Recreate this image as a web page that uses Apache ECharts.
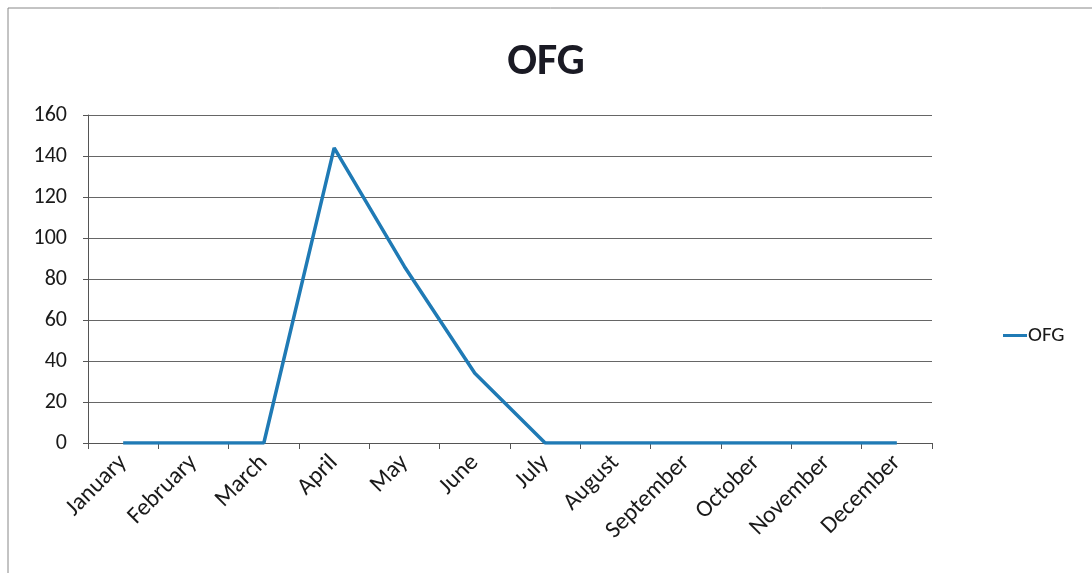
<!DOCTYPE html>
<html><head><meta charset="utf-8">
<script src="https://cdn.jsdelivr.net/npm/echarts@6/dist/echarts.min.js"></script>
<style>html,body{margin:0;padding:0;background:#fff}#c{width:1092px;height:573px}</style>
</head><body><div id="c"></div>
<script>
const categories = ['January','February','March','April','May','June','July','August','September','October','November','December'];
const ofgValues = [0,0,0,144,86,34,0,0,0,0,0,0];
const seriesName = 'OFG';
const chartTitle = 'OFG';

const FONT = 'Carlito, "Open Sans", sans-serif';
const chart = echarts.init(document.getElementById('c'));
chart.setOption({
  backgroundColor:'#fff',
  animation:false,
  title:{text:chartTitle,left:'center',top:36,textStyle:{fontFamily:FONT,fontWeight:'bold',fontSize:44,color:'#1a1a24'}},
  graphic:[{type:'rect',shape:{x:8,y:8,width:1100,height:580},style:{fill:'none',stroke:'#888',lineWidth:1},silent:true}],
  legend:{data:[{name:seriesName,icon:'rect'}],orient:'vertical',left:998,top:320,itemWidth:24,itemHeight:3,itemGap:6,
    textStyle:{fontFamily:FONT,fontSize:21,color:'#1a1a1a',padding:[0,0,0,-4]}},
  grid:{left:88,right:160,top:115,bottom:130,containLabel:false},
  xAxis:{type:'category',data:categories,boundaryGap:true,
    axisLine:{lineStyle:{color:'#555',width:1}},
    axisTick:{show:true,length:6,lineStyle:{color:'#555'},alignWithLabel:false},
    axisLabel:{rotate:45,fontFamily:FONT,fontSize:24,color:'#1a1a1a',margin:16,interval:0}},
  yAxis:{type:'value',min:0,max:160,interval:20,
    axisLine:{show:true,lineStyle:{color:'#555'}},
    axisTick:{show:true,length:5,lineStyle:{color:'#555'}},
    axisLabel:{fontFamily:FONT,fontSize:22,color:'#1a1a1a',margin:21},
    splitLine:{lineStyle:{color:'#666',width:1}}},
  series:[{name:seriesName,type:'line',data:ofgValues,symbol:'none',
    lineStyle:{color:'#1f7ab5',width:3.5},itemStyle:{color:'#1f7ab5'}}]
});
</script></body></html>
